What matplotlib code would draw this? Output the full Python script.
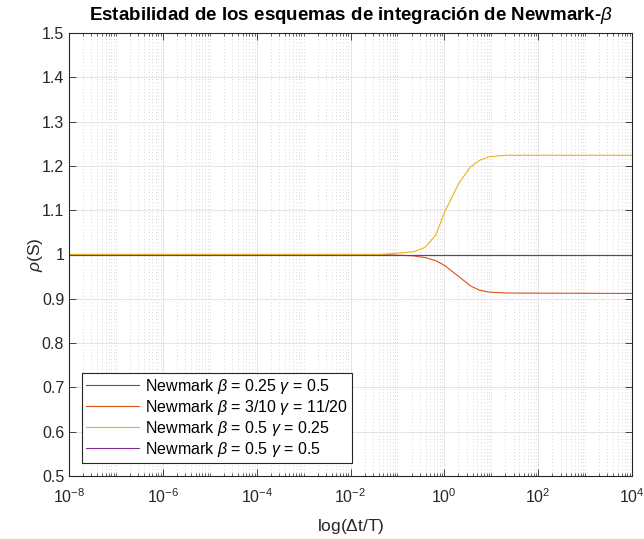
import numpy as np
import matplotlib
matplotlib.use("Agg")
import matplotlib.pyplot as plt
from matplotlib.ticker import NullFormatter

plt.rcParams['font.family'] = ['Liberation Sans', 'DejaVu Sans']
plt.rcParams['mathtext.fontset'] = 'custom'
plt.rcParams['mathtext.rm'] = 'Liberation Sans'
plt.rcParams['mathtext.it'] = 'Liberation Sans:italic'
plt.rcParams['mathtext.bf'] = 'Liberation Sans:bold'

# data (x in log10 of dt/T)
log_dt = [-8, -1.37, -0.66, -0.41, -0.18, 0.01, 0.31, 0.56, 0.76, 0.97, 1.33, 4]
rho_025_05 = [1.0] * 12
rho_3_10 = [1.0, 1.0, 0.997, 0.993, 0.986, 0.975, 0.950, 0.929, 0.919, 0.915, 0.913, 0.912]
rho_05_025 = [1.0, 1.0, 1.006, 1.016, 1.044, 1.097, 1.161, 1.198, 1.213, 1.221, 1.224, 1.224]
rho_05_05 = [1.0] * 12

labels = [r'Newmark $\beta$ = 0.25 $\gamma$ = 0.5',
          r'Newmark $\beta$ = 3/10 $\gamma$ = 11/20',
          r'Newmark $\beta$ = 0.5 $\gamma$ = 0.25',
          r'Newmark $\beta$ = 0.5 $\gamma$ = 0.5']
colors = ['#0072BD', '#D95319', '#EDB120', '#7E2F8E']
yticks = [0.5, 0.6, 0.7, 0.8, 0.9, 1.0, 1.1, 1.2, 1.3, 1.4, 1.5]
ylabels = ['0.5', '0.6', '0.7', '0.8', '0.9', '1', '1.1', '1.2', '1.3', '1.4', '1.5']
xexp = [-8, -6, -4, -2, 0, 2, 4]

dt = 10.0 ** np.array(log_dt)

fig = plt.figure(figsize=(6.44, 5.39), dpi=100)
ax = fig.add_axes([69 / 644, 1 - 476 / 539, 563 / 644, 443 / 539])

for y, c, lab in zip([rho_025_05, rho_3_10, rho_05_025, rho_05_05], colors, labels):
    ax.plot(dt, y, color=c, lw=0.8, label=lab)

ax.set_xscale('log')
ax.set_xlim(1e-8, 1e4)
ax.set_ylim(0.5, 1.5)
ax.set_xticks([10.0 ** k for k in xexp])
ax.set_xticklabels([r'$10^{%d}$' % k for k in xexp])
minors = [m * 10.0 ** k for k in range(-8, 4) for m in range(1, 10) if not (m == 1 and k % 2 == 0)]
ax.set_xticks(minors, minor=True)
ax.xaxis.set_minor_formatter(NullFormatter())
ax.set_yticks(yticks)
ax.set_yticklabels(ylabels)

ax.grid(True, which='major', color='#e0e0e0', lw=0.6)
ax.grid(True, which='minor', axis='x', color='#c8c8c8', lw=0.6, linestyle=(0, (1, 3)))
ax.set_axisbelow(True)

ax.tick_params(which='both', direction='in', top=True, right=True, labelsize=11.5, colors='#262626')
ax.tick_params(which='major', length=5, width=0.6)
ax.tick_params(which='minor', length=2.5, width=0.5)
ax.tick_params(axis='x', which='major', pad=8)
for s in ax.spines.values():
    s.set_color('#262626')
    s.set_linewidth(0.8)

ax.set_xlabel(r'log($\Delta$t/T)', fontsize=12.5, color='#262626')
ax.set_ylabel(r'$\rho$(S)', fontsize=12.5, color='#262626')
ax.xaxis.set_label_coords(0.5, -0.092)
ax.yaxis.set_label_coords(-0.043, 0.5)
ax.set_title(r'Estabilidad de los esquemas de integración de Newmark-$\beta$',
             fontsize=13.5, fontweight='bold', pad=9)

leg = ax.legend(loc='lower left', bbox_to_anchor=(13.3 / 563, 13.3 / 443), borderaxespad=0,
                fontsize=11.5, handlelength=3.3, labelspacing=0.12, fancybox=False,
                framealpha=1, edgecolor='#262626', borderpad=0.25, handletextpad=0.4)
leg.get_frame().set_linewidth(0.8)

fig.savefig('out.png', dpi=100)
